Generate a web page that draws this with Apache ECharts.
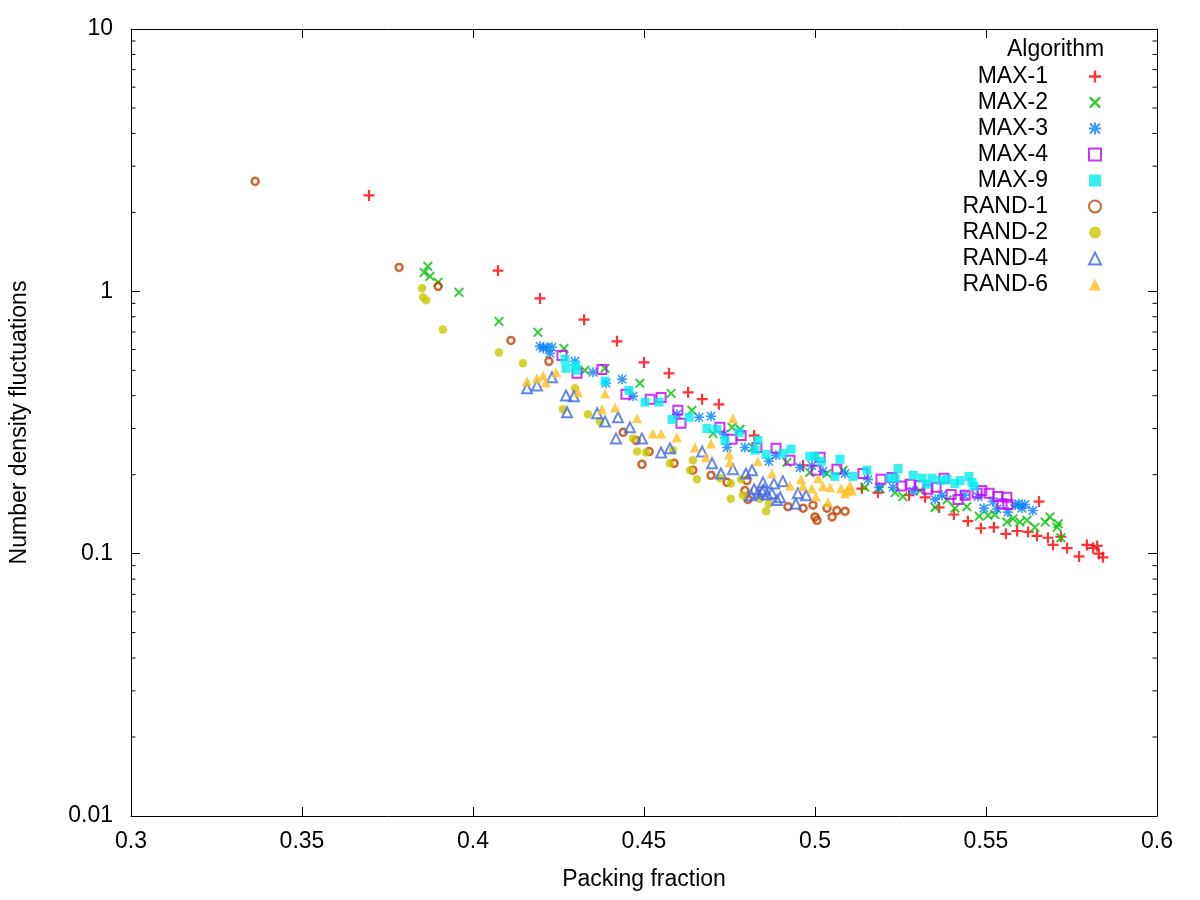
<!DOCTYPE html>
<html>
<head>
<meta charset="utf-8">
<title>Number density fluctuations</title>
<script src="https://cdn.jsdelivr.net/npm/echarts@6/dist/echarts.min.js"></script>
<style>
    html, body { margin: 0; padding: 0; background: #fff; }
    #chart { width: 1200px; height: 900px; }
</style>
</head>
<body>
<div id="chart"></div>
<script>
// 各算法的数据点 [packing fraction, fluctuations]
const max1 = [[0.3696, 2.32], [0.4073, 1.20], [0.4196, 0.94], [0.4325, 0.78], [0.4421, 0.645], [0.4500, 0.536],
    [0.4573, 0.487], [0.4629, 0.412], [0.4670, 0.388], [0.4719, 0.371], [0.4822, 0.282], [0.4965, 0.217],
    [0.5137, 0.177], [0.5184, 0.171], [0.5275, 0.167], [0.5322, 0.164], [0.5363, 0.150], [0.5406, 0.141],
    [0.5447, 0.133], [0.5485, 0.125], [0.5523, 0.126], [0.5558, 0.119], [0.5591, 0.122], [0.5623, 0.121],
    [0.5649, 0.117], [0.5655, 0.158], [0.5681, 0.115], [0.5696, 0.108], [0.5719, 0.116], [0.5737, 0.105],
    [0.5772, 0.0976], [0.5795, 0.108], [0.5813, 0.105], [0.5825, 0.107], [0.5830, 0.100], [0.5842, 0.0968]]
const max2 = [[0.3868, 1.245], [0.3857, 1.181], [0.3874, 1.141], [0.3898, 1.082], [0.3959, 0.991], [0.4076, 0.768],
    [0.4190, 0.698], [0.4266, 0.606], [0.4327, 0.500], [0.4386, 0.509], [0.4488, 0.446], [0.4579, 0.408],
    [0.4640, 0.352], [0.4702, 0.287], [0.4757, 0.303], [0.4781, 0.298], [0.4819, 0.254], [0.4918, 0.223],
    [0.4985, 0.204], [0.5035, 0.202], [0.5082, 0.208], [0.5146, 0.179], [0.5190, 0.177], [0.5234, 0.171],
    [0.5257, 0.165], [0.5307, 0.174], [0.5351, 0.150], [0.5386, 0.160], [0.5409, 0.149], [0.5444, 0.151],
    [0.5480, 0.139], [0.5506, 0.140], [0.5526, 0.141], [0.5561, 0.132], [0.5579, 0.136], [0.5599, 0.132],
    [0.5620, 0.134], [0.5643, 0.126], [0.5673, 0.132], [0.5687, 0.138], [0.5708, 0.126], [0.5711, 0.130],
    [0.5719, 0.115]]
const max3 = [[0.4196, 0.617], [0.4205, 0.606], [0.4216, 0.612], [0.4231, 0.612], [0.4225, 0.580], [0.4298, 0.541],
    [0.4351, 0.491], [0.4389, 0.446], [0.4436, 0.462], [0.4468, 0.398], [0.4596, 0.340], [0.4661, 0.331],
    [0.4696, 0.334], [0.4734, 0.285], [0.4743, 0.254], [0.4795, 0.254], [0.4865, 0.225], [0.4886, 0.237],
    [0.4956, 0.213], [0.4991, 0.217], [0.5023, 0.206], [0.5088, 0.202], [0.5155, 0.192], [0.5187, 0.179],
    [0.5228, 0.179], [0.5287, 0.173], [0.5351, 0.161], [0.5371, 0.167], [0.5436, 0.167], [0.5477, 0.165],
    [0.5494, 0.149], [0.5520, 0.158], [0.5532, 0.148], [0.5564, 0.144], [0.5585, 0.153], [0.5596, 0.155],
    [0.5605, 0.149], [0.5614, 0.154], [0.5637, 0.146]]
const max4 = [[0.4260, 0.570], [0.4304, 0.487], [0.4377, 0.504], [0.4447, 0.405], [0.4518, 0.388], [0.4550, 0.394],
    [0.4599, 0.352], [0.4608, 0.314], [0.4722, 0.303], [0.4757, 0.273], [0.4784, 0.282], [0.4830, 0.254],
    [0.4886, 0.252], [0.4927, 0.227], [0.5015, 0.233], [0.5003, 0.208], [0.5064, 0.210], [0.5140, 0.202],
    [0.5193, 0.192], [0.5225, 0.195], [0.5254, 0.181], [0.5278, 0.184], [0.5307, 0.182], [0.5330, 0.176],
    [0.5354, 0.179], [0.5377, 0.194], [0.5398, 0.168], [0.5418, 0.161], [0.5439, 0.167], [0.5474, 0.170],
    [0.5488, 0.174], [0.5509, 0.170], [0.5535, 0.165], [0.5547, 0.155], [0.5561, 0.164], [0.5564, 0.154]]
const max9 = [[0.4269, 0.551], [0.4272, 0.509], [0.4301, 0.522], [0.4301, 0.500], [0.4386, 0.454], [0.4456, 0.419],
    [0.4503, 0.378], [0.4544, 0.378], [0.4582, 0.325], [0.4632, 0.331], [0.4684, 0.300], [0.4713, 0.298],
    [0.4737, 0.270], [0.4778, 0.290], [0.4833, 0.270], [0.4825, 0.248], [0.4857, 0.239], [0.4906, 0.241],
    [0.4930, 0.250], [0.4985, 0.235], [0.5000, 0.235], [0.5018, 0.225], [0.5073, 0.229], [0.5058, 0.197],
    [0.5111, 0.197], [0.5152, 0.208], [0.5219, 0.194], [0.5234, 0.194], [0.5243, 0.211], [0.5287, 0.199],
    [0.5313, 0.194], [0.5327, 0.184], [0.5342, 0.194], [0.5368, 0.190], [0.5386, 0.192], [0.5409, 0.185],
    [0.5424, 0.190], [0.5450, 0.197], [0.5459, 0.187], [0.5465, 0.181]]
const rand1 = [[0.3363, 2.627], [0.3784, 1.234], [0.3898, 1.045], [0.4111, 0.650], [0.4222, 0.541], [0.4439, 0.290],
    [0.4477, 0.270], [0.4494, 0.219], [0.4515, 0.245], [0.4588, 0.221], [0.4643, 0.208], [0.4696, 0.199],
    [0.4743, 0.187], [0.4801, 0.190], [0.4795, 0.174], [0.4804, 0.161], [0.4921, 0.151], [0.4965, 0.149],
    [0.4994, 0.153], [0.5000, 0.138], [0.5006, 0.134], [0.5035, 0.149], [0.5050, 0.138], [0.5064, 0.146],
    [0.5088, 0.145]]
const rand2 = [[0.3851, 1.027], [0.3854, 0.949], [0.3863, 0.924], [0.3912, 0.716], [0.4076, 0.585], [0.4146, 0.532],
    [0.4298, 0.427], [0.4263, 0.355], [0.4336, 0.340], [0.4371, 0.319], [0.4468, 0.275], [0.4480, 0.245],
    [0.4506, 0.243], [0.4576, 0.221], [0.4585, 0.248], [0.4643, 0.227], [0.4635, 0.208], [0.4655, 0.192],
    [0.4722, 0.194], [0.4754, 0.162], [0.4789, 0.167], [0.4839, 0.162], [0.4857, 0.145], [0.4865, 0.155],
    [0.4754, 0.185], [0.4784, 0.192]]
const rand4 = [[0.4158, 0.427], [0.4187, 0.438], [0.4231, 0.470], [0.4272, 0.401], [0.4295, 0.398], [0.4275, 0.346],
    [0.4363, 0.343], [0.4386, 0.319], [0.4424, 0.331], [0.4459, 0.303], [0.4418, 0.275], [0.4494, 0.275],
    [0.4550, 0.243], [0.4576, 0.252], [0.4670, 0.245], [0.4699, 0.221], [0.4725, 0.202], [0.4760, 0.210],
    [0.4798, 0.202], [0.4816, 0.208], [0.4848, 0.187], [0.4833, 0.170], [0.4880, 0.185], [0.4906, 0.189],
    [0.4874, 0.170], [0.4889, 0.160], [0.4950, 0.170], [0.4974, 0.167], [0.4944, 0.155], [0.4813, 0.167],
    [0.4860, 0.168], [0.4898, 0.164], [0.4822, 0.176], [0.4845, 0.173], [0.4851, 0.176]]
const rand6 = [[0.4158, 0.454], [0.4187, 0.466], [0.4205, 0.478], [0.4213, 0.450], [0.4243, 0.491], [0.4307, 0.412],
    [0.4386, 0.408], [0.4415, 0.361], [0.4377, 0.355], [0.4480, 0.328], [0.4526, 0.287], [0.4550, 0.287],
    [0.4596, 0.278], [0.4760, 0.328], [0.4649, 0.254], [0.4696, 0.263], [0.4681, 0.233], [0.4749, 0.239],
    [0.4751, 0.223], [0.4833, 0.225], [0.4874, 0.202], [0.4927, 0.182], [0.4959, 0.192], [0.4965, 0.181],
    [0.4991, 0.177], [0.5009, 0.194], [0.5023, 0.181], [0.5044, 0.179], [0.5076, 0.177], [0.5088, 0.170],
    [0.5102, 0.182], [0.5108, 0.174], [0.5003, 0.165], [0.5038, 0.157], [0.5094, 0.174]]

const seriesNames = ['MAX-1', 'MAX-2', 'MAX-3', 'MAX-4', 'MAX-9', 'RAND-1', 'RAND-2', 'RAND-4', 'RAND-6']
const xTicks = [0.3, 0.35, 0.4, 0.45, 0.5, 0.55, 0.6]
const yTicks = [0.01, 0.1, 1, 10]
// 对数轴的次刻度
const minorTicks = [0.02, 0.03, 0.04, 0.05, 0.06, 0.07, 0.08, 0.09,
    0.2, 0.3, 0.4, 0.5, 0.6, 0.7, 0.8, 0.9,
    2, 3, 4, 5, 6, 7, 8, 9]

const FONT = 'Liberation Sans'
const FSIZE = 23
const symPlus = 'path://M0,4H10V6H0ZM4,0H6V10H4Z'
const symCross = 'path://M0,1.4L1.4,0L10,8.6L8.6,10ZM8.6,0L10,1.4L1.4,10L0,8.6Z'
const symStar = 'path://M0,4.2H10V5.8H0ZM4.2,0H5.8V10H4.2ZM0.3,1.4L1.4,0.3L9.7,8.6L8.6,9.7ZM8.6,0.3L9.7,1.4L1.4,9.7L0.3,8.6Z'

function scatter(name, data, symbol, size, color, hollow, bw) {
    return {
        name: name,
        type: 'scatter',
        data: data,
        symbol: symbol,
        symbolSize: size,
        itemStyle: hollow
            ? { color: 'rgba(0,0,0,0)', borderColor: color, borderWidth: bw }
            : { color: color },
        emphasis: { disabled: true }
    }
}

let chart = echarts.init(document.getElementById('chart'))
let tickLabel = { color: '#000', fontFamily: FONT, fontSize: FSIZE }
let option = {
    animation: false,
    backgroundColor: '#fff',
    grid: { left: 131, right: 43, top: 29, bottom: 84 },
    title: {
        text: 'Algorithm', left: 1002, top: 33,
        textStyle: { fontFamily: FONT, fontSize: FSIZE, fontWeight: 'normal', color: '#000' }
    },
    legend: {
        data: seriesNames,
        orient: 'vertical',
        align: 'right',
        right: 93,
        top: 60,
        itemWidth: 12,
        itemHeight: 12,
        itemGap: 3,
        selectedMode: false,
        textStyle: { fontFamily: FONT, fontSize: FSIZE, color: '#000', lineHeight: 23, padding: [0, 36, 0, 0] }
    },
    xAxis: [{
        type: 'value', min: 0.3, max: 0.6, interval: 0.05,
        name: 'Packing fraction', nameLocation: 'middle', nameGap: 52,
        nameTextStyle: tickLabel,
        axisLine: { lineStyle: { color: '#000', width: 1 } },
        axisTick: { inside: true, length: 9, lineStyle: { color: '#000' } },
        axisLabel: Object.assign({ margin: 14, formatter: v => xTicks.includes(+v.toFixed(2)) ? String(+v.toFixed(2)) : '' }, tickLabel),
        splitLine: { show: false }
    }, {
        type: 'value', min: 0.3, max: 0.6, interval: 0.05, position: 'top',
        axisLine: { lineStyle: { color: '#000', width: 1 } },
        axisTick: { inside: true, length: 9, lineStyle: { color: '#000' } },
        axisLabel: { show: false },
        splitLine: { show: false }
    }],
    yAxis: [{
        type: 'log', logBase: 10, min: 0.01, max: 10,
        name: 'Number density fluctuations', nameLocation: 'middle', nameGap: 100,
        nameTextStyle: tickLabel,
        axisLine: { show: true, lineStyle: { color: '#000', width: 1 } },
        axisTick: { inside: true, length: 9, lineStyle: { color: '#000' } },
        axisLabel: Object.assign({ margin: 18, formatter: v => yTicks.includes(v) ? String(v) : '' }, tickLabel),
        splitLine: { show: false }
    }, {
        type: 'log', logBase: 10, min: 0.01, max: 10, position: 'right',
        axisLine: { show: true, lineStyle: { color: '#000', width: 1 } },
        axisTick: { inside: true, length: 9, lineStyle: { color: '#000' } },
        axisLabel: { show: false },
        splitLine: { show: false }
    }],
    series: [
        scatter('MAX-1', max1, symPlus, 11, '#ff0000', false),
        scatter('MAX-2', max2, symCross, 10, '#00c000', false),
        scatter('MAX-3', max3, symStar, 10, '#0080ff', false),
        scatter('MAX-4', max4, 'rect', 9, '#c000ff', true, 2),
        scatter('MAX-9', max9, 'rect', 9, '#00eeee', false),
        scatter('RAND-1', rand1, 'circle', 7, '#c04000', true, 2.5),
        scatter('RAND-2', rand2, 'circle', 8.5, '#c8c800', false),
        scatter('RAND-4', rand4, 'triangle', 10, '#4169e1', true, 2),
        scatter('RAND-6', rand6, 'triangle', 10, '#ffc020', false),
        {
            // 左右两侧的次刻度线
            type: 'custom',
            silent: true,
            clip: false,
            data: minorTicks.map(v => [0.3, v]),
            renderItem: function (params, api) {
                let v = api.value(1)
                let l = api.coord([0.3, v])
                let r = api.coord([0.6, v])
                return {
                    type: 'group',
                    children: [
                        { type: 'line', shape: { x1: l[0], y1: l[1], x2: l[0] + 4.5, y2: l[1] }, style: { stroke: '#000', lineWidth: 1 } },
                        { type: 'line', shape: { x1: r[0], y1: r[1], x2: r[0] - 4.5, y2: r[1] }, style: { stroke: '#000', lineWidth: 1 } }
                    ]
                }
            }
        }
    ]
}
chart.setOption(option)
</script>
</body>
</html>
